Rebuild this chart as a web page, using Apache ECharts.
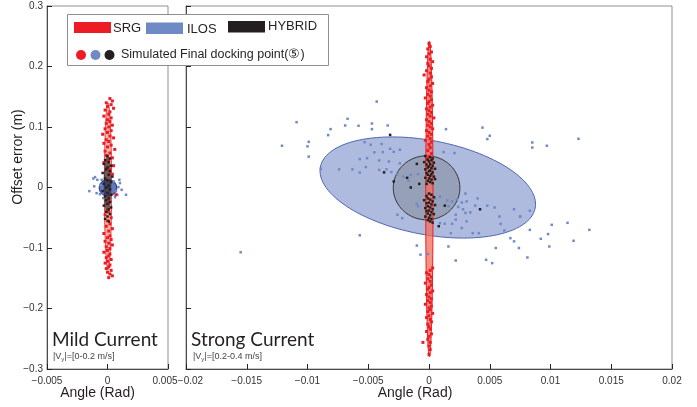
<!DOCTYPE html>
<html><head><meta charset="utf-8">
<script src="https://cdn.jsdelivr.net/npm/echarts@6/dist/echarts.min.js"></script>
<style>html,body{margin:0;padding:0;background:#fff}#c{width:697px;height:407px}</style>
</head><body><div id="c"></div>
<script>
// ---- tick labels ----
const yTicks = [-0.3, -0.2, -0.1, 0, 0.1, 0.2, 0.3];
const xTicksMild = [-0.005, 0, 0.005];
const xTicksStrong = [-0.02, -0.015, -0.01, -0.005, 0, 0.005, 0.01, 0.015, 0.02];
const legendNames = ['SRG', 'ILOS', 'HYBRID'];
const panelTitles = ['Mild Current', 'Strong Current'];
const panelSubs = ['[0-0.2 m/s]', '[0.2-0.4 m/s]'];

// ---- ellipses: [cx, cy, ux, uy, vx, vy] (conjugate semi-diameters in data units) ----
const ellMildSRG = [[0.00004, 0.002, 0.0003, 0, 0, 0.138]];
const ellMildILOS = [[0.00004, -0.0005, 0.00072, 0, 0, 0.0132]];
const ellMildHYB = [[0.0, 0.0045, 0.00028, 0, 0, 0.047]];
const ellStrongILOS = [[-0.0001, 0.0, 0.00884, -0.0339, 0.00072, 0.0764]];
const ellStrongHYB = [[-0.0002, -0.0005, 0.00274, 0, 0, 0.0529]];
const ellStrongSRG = [[0.00003, -0.019, 0.0003, 0, 0, 0.261]];

// ---- simulated final docking points ----
const srgMild = [
[0.0002,0.147],[0.0004,0.143],[-0.0001,0.140],[0.0003,0.137],[0.0000,0.134],[0.0005,0.131],[-0.0002,0.128],[0.0002,0.125],[0.0001,0.121],[-0.0003,0.118],
[0.0003,0.115],[0.0000,0.112],[0.0002,0.109],[-0.0001,0.106],[0.0004,0.103],[0.0001,0.100],[-0.0002,0.097],[0.0003,0.094],[0.0000,0.091],[-0.0004,0.088],
[0.0002,0.085],[0.0005,0.082],[-0.0001,0.079],[0.0001,0.076],[-0.0003,0.073],[0.0003,0.070],[0.0000,0.067],[0.0006,0.063],[-0.0002,0.060],[0.0002,0.057],
[-0.0001,0.053],[0.0004,0.049],[0.0001,0.045],[-0.0003,0.041],[0.0005,0.036],[0.0002,0.030],[0.0007,-0.012],[0.0004,0.022],
[0.0001,-0.040],[-0.0002,-0.045],[0.0003,-0.050],[0.0000,-0.055],[0.0002,-0.060],[-0.0001,-0.064],[0.0004,-0.068],[0.0001,-0.072],[-0.0003,-0.076],[0.0002,-0.080],
[0.0000,-0.083],[0.0003,-0.086],[-0.0002,-0.089],[0.0001,-0.092],[0.0004,-0.095],[-0.0001,-0.098],[0.0002,-0.101],[0.0000,-0.104],[-0.0003,-0.107],[0.0002,-0.110],
[0.0001,-0.113],[-0.0001,-0.116],[0.0003,-0.119],[0.0000,-0.122],[-0.0002,-0.125],[0.0002,-0.128],[0.0001,-0.131],[-0.0001,-0.134],[0.0003,-0.137],[0.0000,-0.140],
[0.0002,-0.143],[0.0004,-0.146],[0.0001,-0.149]
];
const iloMild = [
[-0.00117,0.0149],[-0.00103,0.0172],[-0.0015,-0.006],[-0.0009,-0.0093],[-0.00062,-0.011],[0.00103,0.0073],[0.0009,0.0007],[0.00117,-0.0038],[0.00153,-0.012],[0.00081,-0.012],
[0.00062,-0.0159],[-0.00048,0.0127],[-0.00084,0.0127],[-0.00035,-0.0175],[0.00098,0.0127],[-0.0006,0.004],[0.0005,0.010],[-0.0011,0.002],[0.0007,-0.006],[-0.0004,-0.008]
];
const hybMild = [
[0.0000,0.052],[0.0002,0.048],[-0.0002,0.045],[0.0001,0.042],[-0.0003,0.039],[0.0003,0.036],[0.0000,0.033],[-0.0001,0.030],[0.0002,0.027],[-0.0004,0.024],
[0.0001,0.021],[0.0004,0.018],[-0.0002,0.015],[0.0000,0.012],[0.0003,0.009],[-0.0003,0.006],[0.0001,0.003],[-0.0001,0.000],[0.0002,-0.003],[-0.0004,-0.006],
[0.0000,-0.009],[0.0003,-0.012],[-0.0002,-0.015],[0.0001,-0.018],[-0.0001,-0.021],[0.0002,-0.024],[0.0000,-0.027],[-0.0003,-0.030],[0.0003,-0.033],[0.0001,-0.036],
[-0.0001,-0.040],[0.0002,-0.044],[0.0000,-0.048],[-0.0002,-0.052],[0.0001,-0.056]
];
const srgStrong = [
[0.0000,0.238],[0.0001,0.233],[-0.0001,0.229],[0.0002,0.224],[0.0000,0.221],[-0.0002,0.216],[0.0001,0.212],[0.0003,0.208],[-0.0001,0.205],[0.0000,0.201],
[0.0002,0.197],[-0.0002,0.193],[0.0001,0.189],[-0.0004,0.186],[0.0002,0.183],[0.0000,0.179],[-0.0001,0.175],[0.0003,0.172],[0.0001,0.168],[-0.0002,0.165],
[0.0000,0.161],[0.0002,0.158],[-0.0001,0.154],[0.0001,0.151],[-0.0003,0.148],[0.0002,0.145],[0.0000,0.142],[-0.0001,0.139],[0.0003,0.136],[0.0001,0.133],
[-0.0002,0.130],[0.0000,0.127],[0.0002,0.124],[-0.0001,0.121],[0.0001,0.118],[0.0004,0.115],[-0.0002,0.112],[0.0000,0.109],[0.0002,0.106],[-0.0001,0.103],
[0.0001,0.100],[0.0003,0.097],[-0.0002,0.094],[0.0000,0.091],[0.0002,0.088],[-0.0001,0.085],[0.0001,0.081],[-0.0003,0.078],[0.0002,0.075],[0.0000,0.071],
[0.0001,0.066],[-0.0001,0.061],[0.0002,0.056],[0.0000,0.051],[-0.0002,0.047],
[0.0003,-0.133],[0.0001,-0.137],[-0.0002,-0.141],[0.0000,-0.144],[0.0002,-0.148],[-0.0001,-0.151],[0.0001,-0.155],[-0.0003,-0.158],[0.0002,-0.161],[0.0000,-0.165],
[-0.0001,-0.168],[0.0003,-0.171],[0.0001,-0.174],[-0.0002,-0.177],[0.0000,-0.181],[0.0002,-0.184],[-0.0001,-0.187],[0.0001,-0.190],[-0.0003,-0.193],[0.0002,-0.196],
[0.0000,-0.199],[0.0001,-0.202],[-0.0001,-0.205],[0.0003,-0.208],[0.0000,-0.212],[-0.0002,-0.215],[0.0001,-0.218],[0.0002,-0.222],[-0.0001,-0.226],[0.0000,-0.230],
[0.0001,-0.234],[-0.0002,-0.238],[0.0002,-0.242],[0.0000,-0.246],[-0.0001,-0.251],[0.0001,-0.256],[-0.0005,-0.256],[0.0000,-0.262],[0.0001,-0.268],[0.0000,-0.276]
];
const iloStrong = [
[-0.0109,0.108],[-0.0121,0.069],[-0.0099,0.0755],[-0.0100,0.068],[-0.0099,0.051],[-0.0081,0.0965],[-0.0083,0.0866],[-0.0155,-0.107],[-0.0074,0.030],[-0.0089,0.031],
[0.0085,0.0744],[0.0085,0.066],[0.0097,0.069],[0.0123,0.0805],[0.0083,-0.0385],[0.0075,-0.048],[0.0083,-0.070],[0.0101,-0.0617],[0.0114,-0.0584],[0.0132,-0.070],
[0.0098,-0.077],[0.0092,-0.0848],[0.0119,-0.0881],[0.0099,-0.0975],[0.0081,-0.1157],
[-0.0043,0.142],[-0.0067,0.1135],[-0.0069,0.1025],[-0.0058,0.102],[-0.0047,0.1058],[-0.0047,0.0965],[-0.0034,0.1025],[0.0014,0.0965],[0.0044,0.099],[0.0050,0.0855],[0.0048,0.080],
[-0.0053,0.075],[-0.0048,0.0706],[-0.0039,0.072],[-0.0032,0.064],[-0.0024,0.0623],[-0.0029,0.059],[-0.0045,0.058],[-0.0038,0.0585],[-0.0057,0.047],[-0.0051,0.0485],
[-0.0041,0.0446],[-0.0033,0.043],[-0.0024,0.040],[-0.0063,0.030],[-0.0057,0.0248],[-0.0052,0.0337],[-0.0041,0.029],[-0.0035,0.030],[-0.0031,0.0254],[-0.0026,0.0226],
[-0.0015,0.021],[-0.0009,0.022],[-0.0017,0.011],[-0.0021,0.018],[0.0012,0.0585],[0.0021,0.057],
[0.0005,-0.0175],[0.0009,-0.015],[0.0015,-0.0215],[0.0019,-0.023],[0.0023,-0.020],[0.0027,-0.0248],[0.0031,-0.023],[0.0016,-0.031],[0.0024,-0.032],[0.0028,-0.036],
[0.0034,-0.041],[0.0038,-0.030],[0.0048,-0.030],[0.0054,-0.033],[0.0022,-0.045],[0.0030,-0.042],[0.0022,-0.053],[0.0009,-0.059],[0.0013,-0.060],[0.0019,-0.060],
[0.0031,-0.056],[0.0027,-0.067],[0.0018,-0.0755],[0.0036,-0.0755],[0.0041,-0.0755],[0.0058,-0.048],[0.0070,-0.036],[0.0075,-0.048],[0.0059,-0.060],[0.0062,-0.071],
[0.0067,-0.0837],[0.0070,-0.089],[0.0074,-0.100],[0.0055,-0.100],[0.0047,-0.1195],[0.0052,-0.125],[0.0022,-0.1207],[0.0016,-0.0975],[-0.0010,-0.096],[-0.0007,-0.111],
[-0.0057,-0.079],[-0.0022,-0.0506],[-0.0026,-0.045],[-0.0010,-0.027],[-0.0009,-0.031],[-0.0001,-0.110],[0.0030,-0.010],[0.0040,-0.018]
];
const hybStrong = [
[-0.0003,0.052],[0.0001,0.050],[0.0003,0.048],[-0.0001,0.046],[0.0002,0.045],[0.0000,0.043],[-0.0004,0.042],[0.0004,0.041],[0.0001,0.039],[-0.0002,0.038],
[0.0003,0.036],[0.0000,0.035],[-0.0001,0.033],[0.0002,0.032],[0.0005,0.031],[-0.0003,0.030],[0.0001,0.028],[0.0000,0.027],[0.0003,0.025],[-0.0002,0.024],
[0.0002,0.022],[-0.0001,0.021],[0.0001,0.019],[0.0004,0.018],[-0.0003,0.016],[0.0000,0.015],[0.0002,0.013],[-0.0001,0.011],[0.0001,0.009],[0.0003,0.007],[-0.0002,0.006],
[0.0000,-0.010],[0.0002,-0.012],[-0.0002,-0.014],[0.0004,-0.016],[-0.0001,-0.018],[0.0001,-0.020],[-0.0004,-0.021],[0.0003,-0.023],[0.0000,-0.025],[-0.0002,-0.026],
[0.0002,-0.028],[0.0005,-0.029],[-0.0001,-0.031],[0.0001,-0.033],[-0.0003,-0.034],[0.0003,-0.036],[0.0000,-0.038],[-0.0002,-0.039],[0.0002,-0.041],[-0.0001,-0.043],
[0.0004,-0.044],[0.0001,-0.046],[-0.0003,-0.048],[0.0000,-0.050],[0.0002,-0.052],[-0.0001,-0.054],[0.0001,-0.056],[0.0003,-0.058],
[-0.0032,0.087],[-0.0037,0.025],[-0.0029,0.010],[-0.0015,0.000],[-0.0018,0.016],[-0.0010,0.039],[0.0042,-0.036],[0.0008,-0.064],[0.0013,-0.030],[0.0005,0.014],[-0.0008,0.006]
];

const RED = '#ed1c24', BLUE = '#6f8ac4', BLACK = '#231f20';
const SANS = '"Liberation Sans", Arial, Helvetica, sans-serif';

function fmt(v) {
  const s = String(parseFloat(v.toFixed(4)));
  return s.replace('-', '\u2212');
}

function ellipseSeries(data, xi, fill, stroke, lw) {
  return {
    type: 'custom', xAxisIndex: xi, yAxisIndex: xi, data: data, clip: true,
    encode: { x: 0, y: 1 }, silent: true,
    renderItem: function (params, api) {
      const cx = api.value(0), cy = api.value(1), ux = api.value(2), uy = api.value(3), vx = api.value(4), vy = api.value(5);
      const pts = [];
      const N = 120;
      for (let i = 0; i < N; i++) {
        const t = i / N * 2 * Math.PI;
        pts.push(api.coord([cx + ux * Math.cos(t) + vx * Math.sin(t), cy + uy * Math.cos(t) + vy * Math.sin(t)]));
      }
      return { type: 'polygon', shape: { points: pts }, style: { fill: fill, stroke: stroke, lineWidth: lw } };
    }
  };
}
function pointSeries(data, xi, color, size) {
  return {
    type: 'scatter', xAxisIndex: xi, yAxisIndex: xi, data: data, symbol: 'rect',
    symbolSize: size, itemStyle: { color: color, opacity: 1 }, silent: true, animation: false
  };
}

function xAxisDef(gi, ticks, richFmt) {
  return {
    type: 'value', gridIndex: gi, min: ticks[0], max: ticks[ticks.length - 1], interval: ticks[1] - ticks[0],
    axisLine: { show: true, onZero: false, lineStyle: { color: '#4a4a4a', width: 1 } },
    axisTick: { show: true, inside: true, length: 5, lineStyle: { color: '#222' } },
    splitLine: { show: false },
    axisLabel: { color: '#333', fontSize: 10, fontFamily: SANS, margin: 7, formatter: richFmt,
      rich: { l: { fontSize: 10, fontFamily: SANS, color: '#333', padding: [0, 6, 0, 0] },
              r: { fontSize: 10, fontFamily: SANS, color: '#333', padding: [0, 0, 0, 9] } } }
  };
}
function yAxisDef(gi, showLabel) {
  return {
    type: 'value', gridIndex: gi, min: yTicks[0], max: yTicks[yTicks.length - 1], interval: yTicks[1] - yTicks[0],
    axisLine: { show: true, onZero: false, lineStyle: { color: '#4a4a4a', width: 1 } },
    axisTick: { show: true, inside: true, length: 5, lineStyle: { color: '#222' } },
    splitLine: { show: false },
    axisLabel: { show: showLabel, color: '#333', fontSize: 10, fontFamily: SANS, margin: 4, formatter: fmt }
  };
}

const chart = echarts.init(document.getElementById('c'), null, { renderer: 'canvas' });
const option = {
  animation: false,
  backgroundColor: '#fff',
  grid: [
    { left: 47, top: 6, width: 121, height: 363, show: true, borderColor: '#8f8f8f', borderWidth: 1, backgroundColor: 'transparent' },
    { left: 186, top: 6, width: 486, height: 363, show: true, borderColor: '#8f8f8f', borderWidth: 1, backgroundColor: 'transparent' }
  ],
  xAxis: [
    xAxisDef(0, xTicksMild, function (v) { const s = fmt(v); return v > 0.004 ? '{l|' + s + '}' : s; }),
    xAxisDef(1, xTicksStrong, function (v) { const s = fmt(v); return v < -0.019 ? '{r|' + s + '}' : s; })
  ],
  yAxis: [yAxisDef(0, true), yAxisDef(1, false)],
  series: [
    ellipseSeries(ellMildSRG, 0, 'rgba(242,120,100,0.55)', RED, 0.8),
    ellipseSeries(ellMildILOS, 0, 'rgba(90,115,185,0.95)', '#2b3c8c', 1.2),
    ellipseSeries(ellMildHYB, 0, 'rgba(50,35,35,0.65)', 'rgba(40,30,30,0.7)', 0.6),
    pointSeries(iloMild, 0, BLUE, 2.5),
    pointSeries(srgMild, 0, RED, 3),
    pointSeries(hybMild, 0, BLACK, 2.5),
    ellipseSeries(ellStrongILOS, 1, '#aebbdf', '#4e67b2', 1),
    ellipseSeries(ellStrongHYB, 1, 'rgba(100,100,100,0.3)', '#333', 1),
    ellipseSeries(ellStrongSRG, 1, 'rgba(240,110,90,0.75)', RED, 1),
    pointSeries(iloStrong, 1, BLUE, 2.5),
    pointSeries(srgStrong, 1, RED, 3),
    pointSeries(hybStrong, 1, BLACK, 2.5)
  ],
  graphic: [
    { type: 'text', x: 18, y: 157, rotation: Math.PI / 2, z: 100,
      style: { text: 'Offset error (m)', fill: BLACK, font: '14px ' + SANS, align: 'center', verticalAlign: 'middle' } },
    { type: 'text', x: 97.5, y: 393, z: 100,
      style: { text: 'Angle (Rad)', fill: BLACK, font: '14px ' + SANS, align: 'center', verticalAlign: 'middle' } },
    { type: 'text', x: 415, y: 393, z: 100,
      style: { text: 'Angle (Rad)', fill: BLACK, font: '14px ' + SANS, align: 'center', verticalAlign: 'middle' } },
    { type: 'text', x: 52, y: 340, z: 100,
      style: { text: panelTitles[0], fill: BLACK, font: '19px Lato, sans-serif', align: 'left', verticalAlign: 'middle' } },
    { type: 'text', x: 191, y: 340, z: 100,
      style: { text: panelTitles[1], fill: BLACK, font: '19px Lato, sans-serif', align: 'left', verticalAlign: 'middle' } },
    { type: 'text', x: 53, y: 357, z: 100,
      style: { text: '|V{s|y}|=' + panelSubs[0], fill: '#444', font: '9px ' + SANS, align: 'left', verticalAlign: 'middle',
        rich: { s: { fontSize: 6, fontFamily: SANS, fill: '#444', verticalAlign: 'bottom', padding: [4, 0, 0, 0] } } } },
    { type: 'text', x: 193, y: 357, z: 100,
      style: { text: '|V{s|y}|=' + panelSubs[1], fill: '#444', font: '9px ' + SANS, align: 'left', verticalAlign: 'middle',
        rich: { s: { fontSize: 6, fontFamily: SANS, fill: '#444', verticalAlign: 'bottom', padding: [4, 0, 0, 0] } } } },
    // legend
    { type: 'rect', z: 100, shape: { x: 67.5, y: 14.5, width: 261, height: 51 }, style: { fill: '#fff', stroke: '#8f8f8f', lineWidth: 1 } },
    { type: 'rect', z: 101, shape: { x: 74, y: 22, width: 37, height: 11 }, style: { fill: RED } },
    { type: 'text', z: 101, x: 113, y: 28, style: { text: legendNames[0], fill: BLACK, font: '13px ' + SANS, verticalAlign: 'middle' } },
    { type: 'rect', z: 101, shape: { x: 146, y: 22.5, width: 37, height: 11.5 }, style: { fill: BLUE } },
    { type: 'text', z: 101, x: 187, y: 29, style: { text: legendNames[1], fill: BLACK, font: '13px ' + SANS, verticalAlign: 'middle' } },
    { type: 'rect', z: 101, shape: { x: 228, y: 21, width: 37, height: 11.5 }, style: { fill: BLACK } },
    { type: 'text', z: 101, x: 268, y: 26.5, style: { text: legendNames[2], fill: BLACK, font: '13px ' + SANS, verticalAlign: 'middle' } },
    { type: 'circle', z: 101, shape: { cx: 81, cy: 55, r: 5 }, style: { fill: RED } },
    { type: 'circle', z: 101, shape: { cx: 95.5, cy: 55, r: 5 }, style: { fill: BLUE } },
    { type: 'circle', z: 101, shape: { cx: 109.5, cy: 55, r: 5 }, style: { fill: BLACK } },
    { type: 'text', z: 101, x: 121, y: 55, style: { text: 'Simulated Final docking point(\u2464)', fill: BLACK, font: '12.5px ' + SANS, verticalAlign: 'middle' } }
  ]
};
chart.setOption(option);
</script>
</body></html>
